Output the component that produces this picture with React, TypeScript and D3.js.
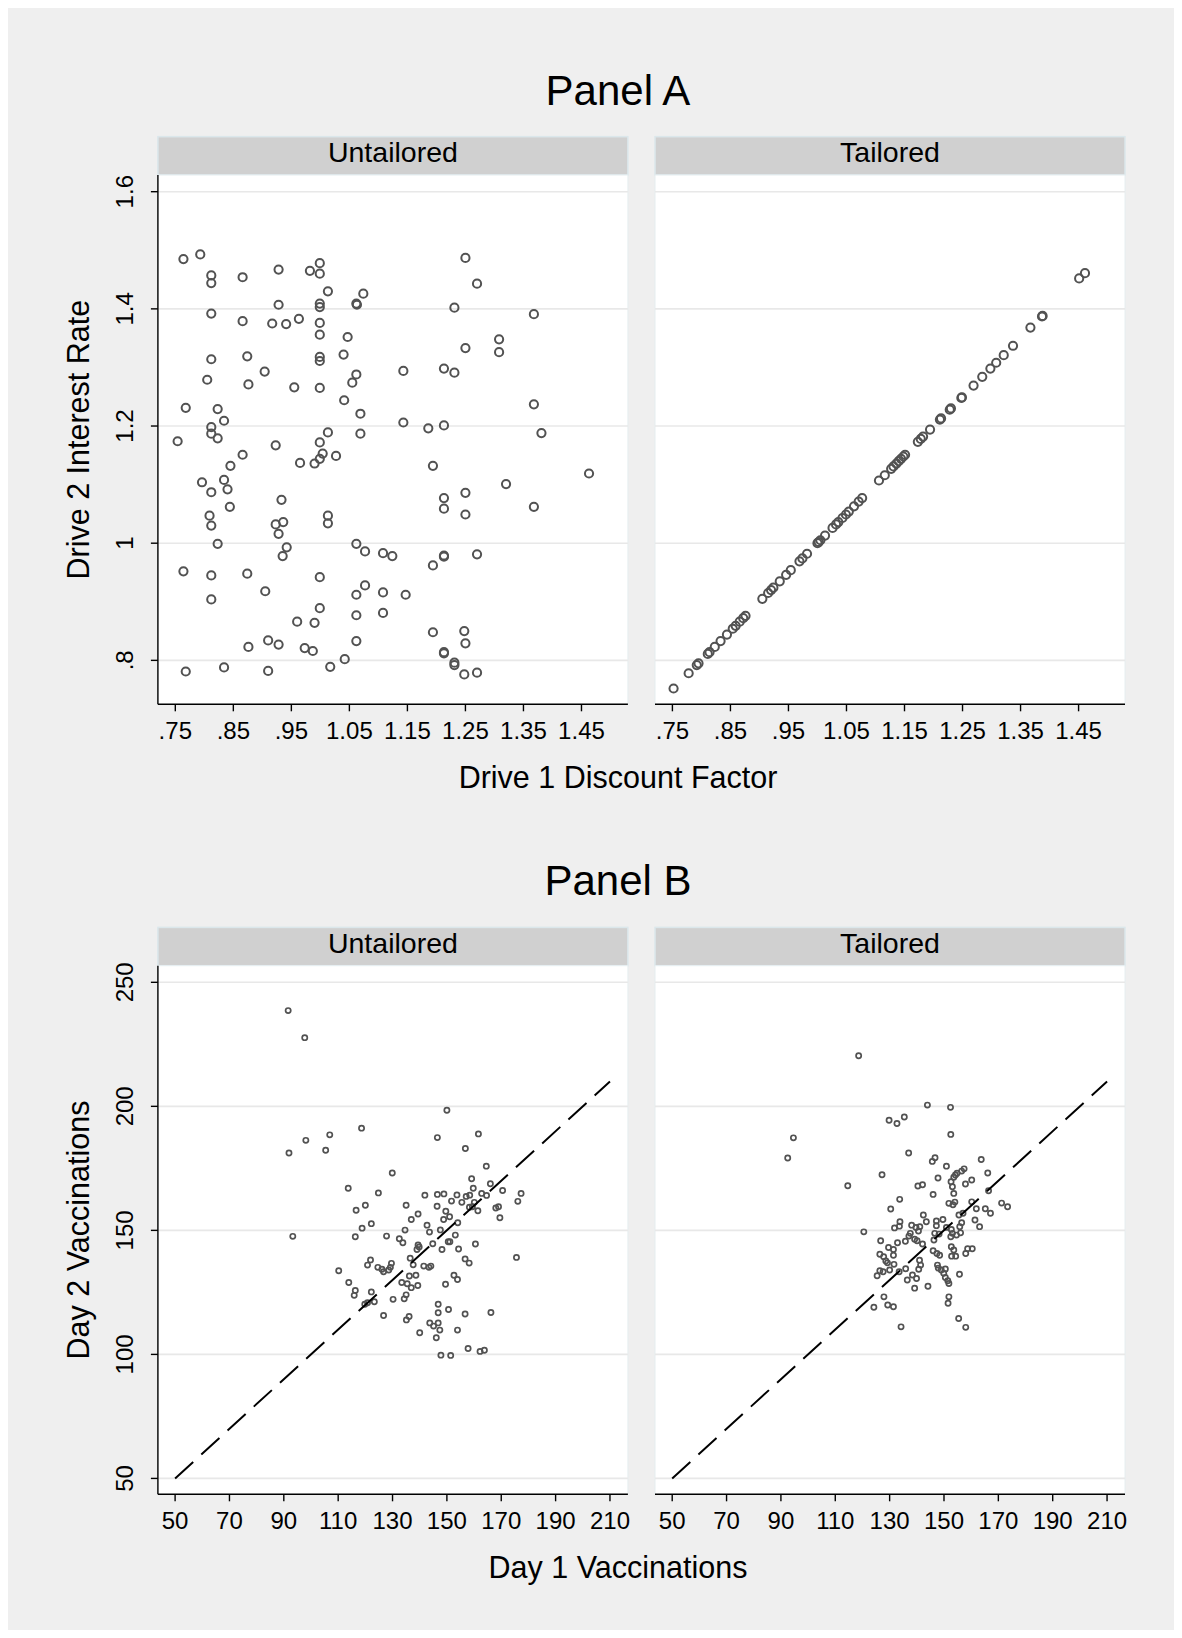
import React from "react";
import * as d3 from "d3";

// ---------- Panel A: discount factor vs. interest rate ----------
const discountUntailored = [
  0.764, 0.793, 0.812, 0.812, 0.866, 0.928, 0.982, 0.999, 0.999, 1.25, 1.27, 1.013, 1.074,
  0.928, 0.999, 0.999, 1.062, 1.063, 1.231, 0.812, 1.368, 0.866, 0.917, 0.941, 0.963, 0.999,
  0.999, 1.047, 1.308, 1.25, 1.308, 1.04, 0.812, 0.874, 0.999, 0.999, 0.904, 1.062, 1.143,
  1.213, 1.231, 0.805, 0.876, 0.955, 0.999, 1.055, 1.041, 0.768, 0.823, 1.368, 1.069, 0.834,
  0.812, 0.812, 0.823, 1.143, 1.186, 1.213, 1.381, 1.013, 1.069, 0.754, 0.999, 0.923, 0.866,
  1.004, 1.027, 0.999, 0.965, 0.99, 0.845, 1.194, 1.463, 0.796, 0.834, 0.84, 0.812, 0.933,
  1.32, 1.213, 1.25, 0.844, 1.213, 1.368, 1.25, 0.809, 0.812, 1.013, 1.013, 0.923, 0.936,
  0.928, 0.823, 0.942, 0.935, 1.062, 1.077, 1.108, 1.124, 1.213, 1.213, 1.27, 1.194, 0.764,
  0.812, 0.874, 0.999, 0.905, 1.077, 1.062, 1.108, 1.147, 0.812, 0.999, 1.062, 1.108, 0.96,
  0.99, 1.194, 1.248, 1.25, 0.91, 0.928, 0.876, 0.973, 0.987, 1.062, 1.213, 1.213, 1.042,
  1.231, 1.231, 0.768, 0.834, 0.91, 1.017, 1.248, 1.27,
];
const rateUntailored = [
  1.485, 1.493, 1.457, 1.444, 1.454, 1.467, 1.465, 1.478, 1.46, 1.487, 1.443, 1.43, 1.426,
  1.407, 1.409, 1.403, 1.409, 1.407, 1.402, 1.392, 1.391, 1.379, 1.375, 1.374, 1.383, 1.376,
  1.356, 1.352, 1.348, 1.333, 1.326, 1.322, 1.314, 1.319, 1.318, 1.311, 1.293, 1.288, 1.294,
  1.298, 1.291, 1.279, 1.271, 1.266, 1.265, 1.274, 1.244, 1.231, 1.229, 1.237, 1.221, 1.209,
  1.198, 1.187, 1.179, 1.206, 1.196, 1.201, 1.188, 1.189, 1.187, 1.174, 1.172, 1.167, 1.151,
  1.153, 1.149, 1.144, 1.137, 1.136, 1.132, 1.132, 1.119, 1.104, 1.108, 1.092, 1.087, 1.074,
  1.101, 1.077, 1.086, 1.062, 1.059, 1.062, 1.049, 1.047, 1.03, 1.047, 1.034, 1.032, 1.036,
  1.016, 0.999, 0.993, 0.978, 0.999, 0.986, 0.983, 0.978, 0.979, 0.977, 0.981, 0.962, 0.952,
  0.945, 0.948, 0.942, 0.918, 0.928, 0.912, 0.916, 0.912, 0.904, 0.889, 0.877, 0.881, 0.866,
  0.864, 0.848, 0.85, 0.829, 0.834, 0.827, 0.823, 0.821, 0.816, 0.833, 0.814, 0.812, 0.802,
  0.796, 0.792, 0.781, 0.788, 0.782, 0.789, 0.776, 0.779,
];
const discountTailored = [
  0.752, 0.778, 0.792, 0.795, 0.811, 0.814, 0.823, 0.833, 0.844, 0.854, 0.859, 0.866, 0.872,
  0.876, 0.905, 0.915, 0.92, 0.924, 0.935, 0.946, 0.954, 0.969, 0.974, 0.982, 1.0, 1.002,
  1.005, 1.013, 1.026, 1.032, 1.036, 1.043, 1.049, 1.054, 1.063, 1.071, 1.077, 1.106, 1.116,
  1.127, 1.131, 1.136, 1.14, 1.144, 1.148, 1.151, 1.173, 1.178, 1.182, 1.194, 1.211, 1.213,
  1.228, 1.23, 1.248, 1.249, 1.269, 1.284, 1.298, 1.308, 1.321, 1.337, 1.367, 1.387, 1.388,
  1.451, 1.461,
];
const rateTailored = [
  0.752, 0.778, 0.792, 0.795, 0.811, 0.814, 0.823, 0.833, 0.844, 0.854, 0.859, 0.866, 0.872,
  0.876, 0.905, 0.915, 0.92, 0.924, 0.935, 0.946, 0.954, 0.969, 0.974, 0.982, 1.0, 1.002,
  1.005, 1.013, 1.026, 1.032, 1.036, 1.043, 1.049, 1.054, 1.063, 1.071, 1.077, 1.107, 1.116,
  1.127, 1.131, 1.136, 1.14, 1.144, 1.148, 1.151, 1.173, 1.178, 1.182, 1.194, 1.211, 1.213,
  1.228, 1.23, 1.248, 1.249, 1.269, 1.284, 1.298, 1.308, 1.321, 1.337, 1.368, 1.387, 1.388,
  1.452, 1.461,
];

// ---------- Panel B: day 1 vs. day 2 vaccinations ----------
const day1Untailored = [
  91.6, 97.7, 150.0, 118.6, 106.9, 98.1, 91.9, 105.4, 146.5, 161.6, 156.8, 164.5, 129.9,
  159.1, 166.0, 113.7, 124.8, 159.7, 170.5, 141.9, 146.5, 148.9, 153.7, 157.1, 158.4, 162.8,
  164.6, 177.3, 176.1, 151.7, 155.5, 160.1, 116.6, 120.0, 135.0, 146.4, 149.6, 151.0, 148.8,
  158.3, 159.4, 161.4, 168.0, 169.0, 169.5, 139.4, 136.9, 122.2, 154.0, 142.7, 143.6, 118.8,
  134.6, 147.6, 153.1, 116.3, 127.8, 132.5, 133.8, 144.8, 150.5, 151.1, 160.5, 139.4, 139.8,
  139.0, 148.2, 154.3, 175.6, 136.5, 156.7, 158.2, 121.9, 120.8, 129.6, 137.6, 110.2, 124.6,
  126.1, 126.7, 128.6, 129.2, 141.5, 143.4, 144.1, 152.6, 153.9, 136.2, 138.6, 135.4, 136.9,
  139.3, 133.4, 113.9, 149.5, 122.2, 116.3, 115.9, 135.0, 134.3, 130.2, 119.8, 120.8, 123.3,
  146.8, 150.6, 146.8, 156.7, 166.2, 126.7, 136.1, 135.1, 143.7, 145.1, 146.8, 147.4, 140.0,
  153.9, 146.1, 147.8, 151.4, 157.8, 162.2, 163.8, 93.3,
];
const day2Untailored = [
  238.6, 227.7, 198.4, 191.2, 188.5, 186.3, 181.2, 182.3, 187.4, 188.9, 183.0, 175.9, 173.1,
  170.8, 168.8, 167.0, 165.1, 167.0, 166.1, 164.2, 164.5, 164.7, 164.3, 163.7, 164.2, 164.9,
  164.1, 164.9, 161.7, 161.8, 161.3, 161.3, 158.1, 160.1, 160.1, 159.7, 157.7, 155.5, 154.4,
  159.3, 159.5, 157.9, 159.0, 159.5, 155.1, 156.6, 154.4, 152.7, 153.1, 152.1, 149.3, 150.9,
  150.1, 150.2, 148.1, 147.4, 147.7, 146.6, 145.0, 144.6, 145.4, 145.4, 144.5, 144.1, 143.3,
  142.3, 142.3, 142.5, 139.1, 138.8, 138.5, 136.8, 138.1, 136.0, 136.7, 136.1, 133.7, 135.1,
  134.3, 133.3, 134.0, 135.1, 135.6, 135.1, 135.6, 131.9, 130.2, 131.6, 131.9, 128.5, 126.9,
  127.8, 129.0, 129.0, 128.3, 125.2, 125.8, 123.8, 124.0, 122.4, 122.2, 120.2, 120.8, 121.2,
  120.2, 118.1, 116.8, 116.3, 116.9, 115.7, 115.3, 113.9, 112.7, 111.4, 112.7, 109.8, 108.7,
  109.8, 106.7, 99.7, 99.6, 102.4, 101.2, 101.7, 147.6,
];
const day1Tailored = [
  118.6, 143.9, 152.4, 129.8, 132.7, 135.4, 94.6, 92.5, 152.5, 137.0, 146.7, 145.7, 150.9,
  163.7, 127.2, 114.6, 166.1, 154.2, 154.8, 156.5, 157.4, 153.6, 152.6, 153.1, 153.6, 147.8,
  140.4, 142.1, 157.9, 160.2, 146.0, 133.7, 130.4, 166.4, 171.2, 173.4, 151.8, 153.3, 154.0,
  160.2, 161.9, 165.2, 167.1, 155.5, 157.0, 142.4, 143.5, 133.8, 131.8, 133.6, 138.1, 139.7,
  141.1, 140.6, 147.2, 149.6, 147.2, 150.9, 152.7, 155.8, 156.5, 156.1, 161.4, 163.1, 137.6,
  137.1, 139.2, 140.1, 146.6, 146.3, 148.2, 152.5, 154.6, 153.1, 126.7, 132.9, 135.8, 142.1,
  129.6, 131.4, 126.4, 127.8, 131.4, 128.6, 129.2, 131.6, 130.0, 127.6, 126.4, 125.4, 146.0,
  147.4, 148.4, 152.7, 153.6, 152.8, 154.3, 158.0, 158.7, 160.4, 141.0, 141.4, 140.7, 135.9,
  133.5, 147.6, 147.9, 149.0, 150.5, 149.9, 150.5, 136.5, 138.4, 139.9, 151.4, 151.8, 155.7,
  139.2, 144.1, 127.9, 124.2, 129.3, 131.4, 151.8, 151.5, 134.2, 155.4, 158.0, 120.5,
];
const day2Tailored = [
  220.4, 200.5, 199.6, 194.4, 193.1, 195.7, 187.3, 179.2, 188.7, 181.2, 179.3, 177.8, 175.9,
  178.6, 172.4, 168.0, 173.1, 172.3, 173.0, 173.9, 174.8, 171.4, 169.6, 167.6, 164.9, 171.1,
  167.9, 168.4, 168.7, 170.3, 164.5, 162.5, 158.6, 166.0, 161.0, 159.5, 160.9, 160.3, 161.4,
  161.5, 158.7, 158.7, 156.9, 156.2, 156.9, 156.2, 153.5, 153.5, 151.0, 151.7, 152.1, 151.2,
  151.5, 149.7, 153.8, 154.4, 151.9, 151.2, 150.4, 151.5, 153.1, 149.0, 154.2, 151.5, 148.8,
  147.7, 146.4, 145.8, 148.8, 146.1, 148.5, 147.4, 148.1, 148.8, 145.8, 145.0, 145.6, 144.5,
  143.1, 142.3, 140.4, 139.4, 140.0, 137.7, 136.9, 136.3, 134.0, 133.3, 133.7, 131.7, 141.8,
  140.7, 140.0, 143.4, 142.1, 139.6, 139.6, 140.7, 142.6, 142.6, 138.0, 136.0, 134.3, 134.5,
  133.3, 136.0, 134.8, 134.0, 134.4, 132.7, 131.0, 130.0, 132.0, 130.6, 129.7, 128.6, 132.3,
  126.7, 127.5, 123.2, 119.0, 119.9, 119.2, 123.2, 120.6, 111.1, 114.5, 110.9, 149.4,
];

// ---------- Axis ticks, labels and titles ----------
const discountTicks = [0.75, 0.85, 0.95, 1.05, 1.15, 1.25, 1.35, 1.45];
const discountTickLabels = [".75", ".85", ".95", "1.05", "1.15", "1.25", "1.35", "1.45"];
const rateTicks = [0.8, 1.0, 1.2, 1.4, 1.6];
const rateTickLabels = [".8", "1", "1.2", "1.4", "1.6"];
const day1Ticks = [50, 70, 90, 110, 130, 150, 170, 190, 210];
const day1TickLabels = ["50", "70", "90", "110", "130", "150", "170", "190", "210"];
const day2Ticks = [50, 100, 150, 200, 250];
const day2TickLabels = ["50", "100", "150", "200", "250"];
const equalityLine = [50, 210];
const facetLabels = ["Untailored", "Tailored"];

const FONT = "'Liberation Sans', Arial, Helvetica, sans-serif";
const W = 1166;
const H = 1622;
const FACET_X = [149.9, 647];
const FACET_W = 470;
const STRIP_H = 38.3;
const MARKER = "#525252";

type FacetProps = {
  x0: number;
  stripTop: number;
  plotBottom: number;
  label: string;
  xDomain: [number, number];
  yDomain: [number, number];
  xs: number[];
  ys: number[];
  xTicks: number[];
  xTickLabels: string[];
  yTicks: number[];
  yTickLabels: string[];
  showYAxis: boolean;
  r: number;
  sw: number;
  diagonal?: number[];
};

function Facet(p: FacetProps) {
  const plotTop = p.stripTop + STRIP_H;
  const x = d3.scaleLinear().domain(p.xDomain).range([p.x0, p.x0 + FACET_W]);
  const y = d3.scaleLinear().domain(p.yDomain).range([p.plotBottom, plotTop]);
  const tick = 7;
  return (
    <g>
      <rect x={p.x0} y={p.stripTop} width={FACET_W} height={STRIP_H} fill="#d0d0d0" stroke="#dbe7eb" strokeWidth={1.5} />
      <text x={p.x0 + FACET_W / 2} y={p.stripTop + 25.6} textAnchor="middle" fontSize={28.5} fontFamily={FONT} fill="#000">
        {p.label}
      </text>
      <rect x={p.x0} y={plotTop} width={FACET_W} height={p.plotBottom - plotTop} fill="#fff" stroke="#e6eef0" strokeWidth={1} />
      {p.yTicks.map((t) => (
        <line key={"g" + t} x1={p.x0} x2={p.x0 + FACET_W} y1={y(t)} y2={y(t)} stroke="#e8e8e8" strokeWidth={1.6} />
      ))}
      {p.xs.map((v, i) => (
        <circle key={i} cx={x(v)} cy={y(p.ys[i])} r={p.r} fill="none" stroke={MARKER} strokeWidth={p.sw} />
      ))}
      {p.diagonal && (
        <line
          x1={x(p.diagonal[0])}
          y1={y(p.diagonal[0])}
          x2={x(p.diagonal[1])}
          y2={y(p.diagonal[1])}
          stroke="#000"
          strokeWidth={2}
          strokeDasharray="24.5 11"
        />
      )}
      <line x1={p.x0} x2={p.x0 + FACET_W} y1={p.plotBottom} y2={p.plotBottom} stroke="#000" strokeWidth={1.4} />
      {p.xTicks.map((t, i) => (
        <g key={"x" + t}>
          <line x1={x(t)} x2={x(t)} y1={p.plotBottom} y2={p.plotBottom + tick} stroke="#000" strokeWidth={1.4} />
          <text x={x(t)} y={p.plotBottom + 34.3} textAnchor="middle" fontSize={24} fontFamily={FONT} fill="#000">
            {p.xTickLabels[i]}
          </text>
        </g>
      ))}
      {p.showYAxis && (
        <g>
          <line x1={p.x0} x2={p.x0} y1={plotTop} y2={p.plotBottom} stroke="#000" strokeWidth={1.4} />
          {p.yTicks.map((t, i) => (
            <g key={"y" + t}>
              <line x1={p.x0 - tick} x2={p.x0} y1={y(t)} y2={y(t)} stroke="#000" strokeWidth={1.4} />
              <text
                transform={`translate(${p.x0 - 25},${y(t)}) rotate(-90)`}
                textAnchor="middle"
                fontSize={24}
                fontFamily={FONT}
                fill="#000"
              >
                {p.yTickLabels[i]}
              </text>
            </g>
          ))}
        </g>
      )}
    </g>
  );
}

type RowProps = {
  title: string;
  titleY: number;
  stripTop: number;
  plotBottom: number;
  xTitle: string;
  yTitle: string;
  xDomain: [number, number];
  yDomain: [number, number];
  series: { xs: number[]; ys: number[] }[];
  xTicks: number[];
  xTickLabels: string[];
  yTicks: number[];
  yTickLabels: string[];
  r: number;
  sw: number;
  diagonal?: number[];
};

function Row(p: RowProps) {
  const plotTop = p.stripTop + STRIP_H;
  return (
    <g>
      <text x={610} y={p.titleY} textAnchor="middle" fontSize={42} fontFamily={FONT} fill="#000">
        {p.title}
      </text>
      {p.series.map((s, i) => (
        <Facet
          key={i}
          x0={FACET_X[i]}
          stripTop={p.stripTop}
          plotBottom={p.plotBottom}
          label={facetLabels[i]}
          xDomain={p.xDomain}
          yDomain={p.yDomain}
          xs={s.xs}
          ys={s.ys}
          xTicks={p.xTicks}
          xTickLabels={p.xTickLabels}
          yTicks={p.yTicks}
          yTickLabels={p.yTickLabels}
          showYAxis={i === 0}
          r={p.r}
          sw={p.sw}
          diagonal={p.diagonal}
        />
      ))}
      <text x={610} y={p.plotBottom + 83.4} textAnchor="middle" fontSize={30.5} fontFamily={FONT} fill="#000">
        {p.xTitle}
      </text>
      <text
        transform={`translate(81,${(plotTop + p.plotBottom) / 2}) rotate(-90)`}
        textAnchor="middle"
        fontSize={30.5}
        fontFamily={FONT}
        fill="#000"
      >
        {p.yTitle}
      </text>
    </g>
  );
}

export default function App() {
  return (
    <svg width={W} height={H} viewBox={`0 0 ${W} ${H}`} style={{ display: "block" }}>
      <rect x={0} y={0} width={W} height={H} fill="#efefef" />
      <Row
        title="Panel A"
        titleY={97}
        stripTop={128.7}
        plotBottom={696.3}
        xTitle="Drive 1 Discount Factor"
        yTitle="Drive 2 Interest Rate"
        xDomain={[0.72, 1.53]}
        yDomain={[0.725, 1.6285]}
        series={[
          { xs: discountUntailored, ys: rateUntailored },
          { xs: discountTailored, ys: rateTailored },
        ]}
        xTicks={discountTicks}
        xTickLabels={discountTickLabels}
        yTicks={rateTicks}
        yTickLabels={rateTickLabels}
        r={4.1}
        sw={2}
      />
      <Row
        title="Panel B"
        titleY={887}
        stripTop={919.4}
        plotBottom={1486.3}
        xTitle="Day 1 Vaccinations"
        yTitle="Day 2 Vaccinations"
        xDomain={[43.67, 216.6]}
        yDomain={[43.6, 256.7]}
        series={[
          { xs: day1Untailored, ys: day2Untailored },
          { xs: day1Tailored, ys: day2Tailored },
        ]}
        xTicks={day1Ticks}
        xTickLabels={day1TickLabels}
        yTicks={day2Ticks}
        yTickLabels={day2TickLabels}
        r={2.6}
        sw={1.7}
        diagonal={equalityLine}
      />
    </svg>
  );
}
